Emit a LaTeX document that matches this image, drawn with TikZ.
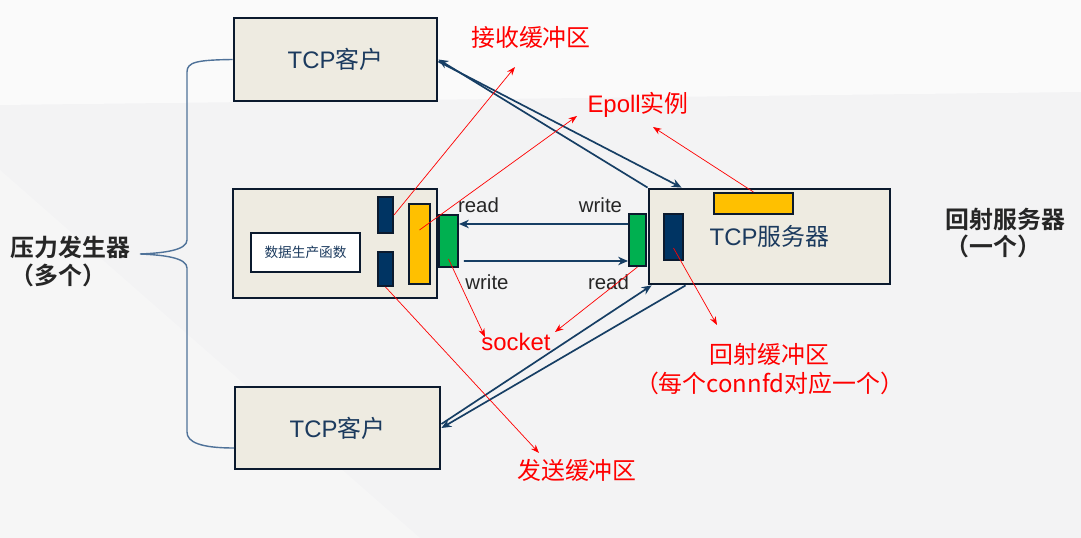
\documentclass[tikz,border=0pt]{standalone}
\usepackage{fontspec}
\setmainfont{Liberation Sans}
\newfontfamily\cjk{Noto Sans CJK SC}[BoldFont={Noto Sans CJK SC Bold}]
\usetikzlibrary{arrows.meta}
\definecolor{BoxNavy}{HTML}{0B1A2E}
\definecolor{BoxFill}{HTML}{EEEBE1}
\definecolor{BufBlue}{HTML}{003463}
\definecolor{EpollYellow}{HTML}{FFC000}
\definecolor{SockGreen}{HTML}{00B050}
\definecolor{LinkBlue}{HTML}{163E64}
\definecolor{LabelBlue}{HTML}{1B3A5E}
\definecolor{TextGray}{HTML}{262626}
\definecolor{BraceBlue}{HTML}{4F7299}
\definecolor{PageGray}{HTML}{F3F3F4}
\newcommand{\zh}[1]{{\cjk #1}}

\begin{document}
\begin{tikzpicture}[x=0.025cm, y=-0.025cm,
  host/.style={draw=BoxNavy, line width=2pt, fill=BoxFill, text=LabelBlue, inner sep=0pt, font=\fontsize{17}{20}\selectfont},
  buf/.style={draw=BoxNavy, line width=1.4pt, fill=BufBlue, inner sep=0pt},
  epbuf/.style={draw=BoxNavy, line width=1.4pt, fill=EpollYellow, inner sep=0pt},
  sockbox/.style={draw=BoxNavy, line width=1.4pt, fill=SockGreen, inner sep=0pt},
  link/.style={draw=LinkBlue, line width=1.2pt, -{Stealth[length=7pt,width=6pt]}},
  hint/.style={draw=red, line width=0.5pt, -{Stealth[length=6pt,width=4.5pt]}},
  rw/.style={text=TextGray, font=\fontsize{14.5}{17}\selectfont},
  redlabel/.style={text=red, font=\fontsize{17}{20.5}\selectfont, align=center},
  sidelabel/.style={text=TextGray, anchor=west, align=left, font=\fontsize{17}{19.5}\selectfont\bfseries}]
% Page
\useasboundingbox (0,0) rectangle (1081,538);
\fill[PageGray] (0,0) rectangle (1081,538);
\fill[white, opacity=0.6] (0,0) -- (1081,0) -- (1081,92) -- (0,105) -- cycle;
\fill[white, opacity=0.25] (0,170) -- (420,538) -- (0,538) -- cycle;

% Clients
\node[host, minimum width=5.075cm, minimum height=2.075cm] (cliA) at (335.5,59.5) {TCP\zh{客户}};
\node[host, minimum width=5.1cm, minimum height=2.725cm] (cliB) at (335,243.5) {};
\node[host, minimum width=5.125cm, minimum height=2.05cm] (cliC) at (337.5,428) {TCP\zh{客户}};
\node[draw=BoxNavy, line width=1.4pt, fill=white, text=LabelBlue, minimum width=2.725cm, minimum height=0.975cm, inner sep=0pt, font=\fontsize{9.7}{12}\selectfont] (gen) at (305.5,252.5) {\zh{数据生产函数}};
\node[buf, minimum width=0.375cm, minimum height=0.9cm] (bufR) at (385.5,215) {};
\node[buf, minimum width=0.375cm, minimum height=0.85cm] (bufS) at (385.5,269) {};
\node[epbuf, minimum width=0.525cm, minimum height=2cm] (epA) at (419.5,244) {};
\node[sockbox, minimum width=0.475cm, minimum height=1.3cm] (sockA) at (448.5,241) {};

% Server
\node[host, minimum width=6.025cm, minimum height=2.375cm] (srv) at (769.5,236.5) {TCP\zh{服务器}};
\node[epbuf, minimum width=1.975cm, minimum height=0.525cm] (epB) at (753.5,203.5) {};
\node[buf, minimum width=0.475cm, minimum height=1.15cm] (echo) at (673.5,237) {};
\node[sockbox, minimum width=0.425cm, minimum height=1.3cm] (sockB) at (637.5,240) {};

% Brace
\draw[BraceBlue, line width=1pt] (cliA.west) .. controls (197,60) and (187,62) .. (187,72) -- (187,240)
  .. controls (187,250) and (165,253) .. (140,254)
  .. controls (165,255) and (187,258) .. (187,268) -- (187,432)
  .. controls (187,442) and (200,448) .. (234,448);

% Connections
\draw[link] (srv.north west) -- (cliA.east);
\draw[link] ([yshift=-0.05cm]cliA.east) -- ([xshift=0.85cm]srv.north west);
\draw[link] ([yshift=0.1cm]cliC.east) -- ([xshift=0.1cm]srv.south west);
\draw[link] ([xshift=0.95cm]srv.south west) -- (cliC.east);
\draw[link] ([yshift=0.4cm]sockB.west) -- ([yshift=0.425cm]sockA.east);
\draw[link] ([xshift=0.125cm,yshift=-0.5cm]sockA.east) -- ([yshift=-0.525cm]sockB.west);

\node[rw] (rdA) at (478.5,205) {read};
\node[rw] (wrB) at (600.5,205) {write};
\node[rw] (wrA) at (487,282) {write};
\node[rw] (rdB) at (608.5,282) {read};

% Side labels
\node[sidelabel] (gens) at (6,261.5) {\zh{压力发生器}\\\zh{（多个）}};
\node[sidelabel] (echos) at (941,233) {\zh{回射服务器}\\\zh{（一个）}};

% Notes
\node[redlabel] (recv) at (531,37) {\zh{接收缓冲区}};
\node[redlabel] (epoll) at (638,105) {Epoll\zh{实例}};
\node[redlabel] (sock) at (516,342) {socket};
\node[redlabel] (send) at (577,470) {\zh{发送缓冲区}};
\node[redlabel] (echobuf) at (769.5,369) {\zh{回射缓冲区}\\\zh{（每个connfd对应一个）}};

\coordinate (recvTip) at (515,67);
\coordinate (epTipA) at (577,116);
\coordinate (epTipB) at (653,127);
\coordinate (sockTipA) at (485,337);
\coordinate (sockTipB) at (555,332);
\coordinate (sendTip) at (539,453);
\coordinate (echoTip) at (717,325);
\coordinate (epATail) at ([yshift=0.35cm]epA.center);
\coordinate (echoTail) at ([yshift=-0.275cm]echo.center);
\coordinate (sockATail) at ([yshift=-0.45cm]sockA.center);
\foreach \from/\to in {bufR.east/recvTip, epATail/epTipA, epB.north/epTipB, echoTail/echoTip,
  sockATail/sockTipA, sockB.south/sockTipB, bufS.south/sendTip}
  \draw[hint] (\from) -- (\to);
\end{tikzpicture}
\end{document}
